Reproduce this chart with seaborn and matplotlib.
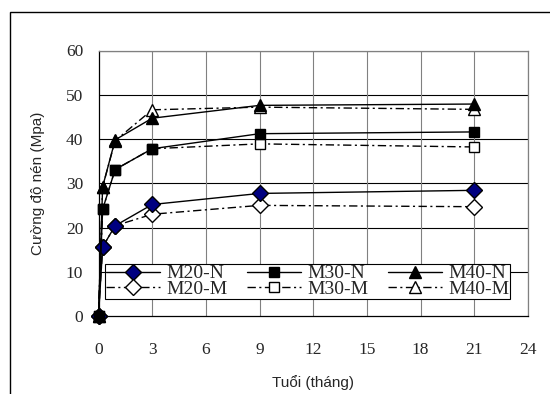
import matplotlib
matplotlib.use("Agg")
import matplotlib.pyplot as plt
import matplotlib.patches as mpatches
import seaborn as sns
import numpy as np

# Data
months = [0, 0.23, 0.93, 3, 9, 21]
m20_n = [0, 15.6, 20.4, 25.2, 27.7, 28.4]
m30_n = [0, 24.1, 33.1, 37.8, 41.2, 41.6]
m40_n = [0, 29.2, 39.8, 44.7, 47.6, 47.9]
m20_m = [0, 15.6, 20.4, 23.0, 25.0, 24.7]
m30_m = [0, 24.1, 33.1, 37.8, 38.9, 38.2]
m40_m = [0, 29.2, 39.6, 46.6, 47.2, 46.7]
series_names = ["M20-N", "M30-N", "M40-N", "M20-M", "M30-M", "M40-M"]
x_ticks = [0, 3, 6, 9, 12, 15, 18, 21, 24]
y_ticks = [0, 10, 20, 30, 40, 50, 60]

sns.set_style("white")
plt.rcParams["font.family"] = ["Liberation Serif", "DejaVu Serif"]

fig = plt.figure(figsize=(5.5, 3.94), dpi=100)
ax = fig.add_axes([98.5 / 550, 1 - 316 / 394, (528 - 98.5) / 550, (316 - 50.5) / 394])

dashdot = (0, (6, 2.5, 1.5, 2.5))
styles = {
    "M20-N": dict(marker="D", ms=8, mfc="#000080", mec="#000000", ls="-"),
    "M30-N": dict(marker="s", ms=6.5, mfc="#000000", mec="#000000", ls="-"),
    "M40-N": dict(marker="^", ms=8, mfc="#000000", mec="#000000", ls="-"),
    "M20-M": dict(marker="D", ms=8, mfc="white", mec="#000000", ls=dashdot),
    "M30-M": dict(marker="s", ms=6.5, mfc="white", mec="#000000", ls=dashdot),
    "M40-M": dict(marker="^", ms=8, mfc="white", mec="#000000", ls=dashdot),
}
values = {"M20-N": m20_n, "M30-N": m30_n, "M40-N": m40_n,
          "M20-M": m20_m, "M30-M": m30_m, "M40-M": m40_m}

order = ["M20-M", "M30-M", "M40-M", "M20-N", "M30-N", "M40-N"]
handles = {}
for name in order:
    st = styles[name]
    sns.lineplot(x=months, y=values[name], ax=ax, color="black", lw=1.0,
                 linestyle=st["ls"], marker=st["marker"], markersize=st["ms"],
                 markerfacecolor=st["mfc"], markeredgecolor=st["mec"],
                 markeredgewidth=1.0, clip_on=False, zorder=3, label=name)
    handles[name] = ax.lines[-1]

ax.set_xlim(0, 24)
ax.set_ylim(0, 60)
ax.set_xticks(x_ticks)
ax.set_yticks(y_ticks)
ax.tick_params(axis="both", direction="out", length=4, width=0.8, color="black",
               labelsize=12.5)
ax.tick_params(axis="y", pad=7)
ax.tick_params(axis="x", pad=15)

for y in y_ticks[1:]:
    ax.axhline(y, color="black", lw=0.8, zorder=1)
for x in x_ticks[1:]:
    ax.axvline(x, color="#808080", lw=0.8, zorder=1)

for side in ["top", "right"]:
    ax.spines[side].set_color("#808080")
    ax.spines[side].set_linewidth(0.9)
for side in ["left", "bottom"]:
    ax.spines[side].set_color("black")
    ax.spines[side].set_linewidth(0.9)

ax.set_xlabel("Tuổi (tháng)", family=["Liberation Sans", "DejaVu Sans"], fontsize=11, labelpad=12)
ax.set_ylabel("Cường độ nén (Mpa)", family=["Liberation Sans", "DejaVu Sans"], fontsize=11, labelpad=15)

# row-wise legend layout (matplotlib fills columns first)
leg_order = ["M20-N", "M20-M", "M30-N", "M30-M", "M40-N", "M40-M"]
leg = ax.legend([handles[n] for n in leg_order], leg_order, ncol=3,
                loc="lower left", bbox_to_anchor=((105 - 98.5) / 429.5, (316 - 299) / 265.5,
                                                  (510 - 105) / 429.5, 47 / 265.5),
                mode="expand", frameon=True, fancybox=False, edgecolor="black",
                framealpha=1, fontsize=14, handlelength=2.8, handletextpad=0.3,
                columnspacing=0.6, borderpad=0.05, labelspacing=-0.1, borderaxespad=0)
leg.get_frame().set_linewidth(0.8)
leg.set_zorder(5)

# outer chart border
fig.add_artist(mpatches.Rectangle((10 / 550, -0.1), 1.2, 1 - 12 / 394 + 0.1,
                                  transform=fig.transFigure, fill=False,
                                  edgecolor="black", lw=1.0))

fig.savefig("out.png", dpi=100)
